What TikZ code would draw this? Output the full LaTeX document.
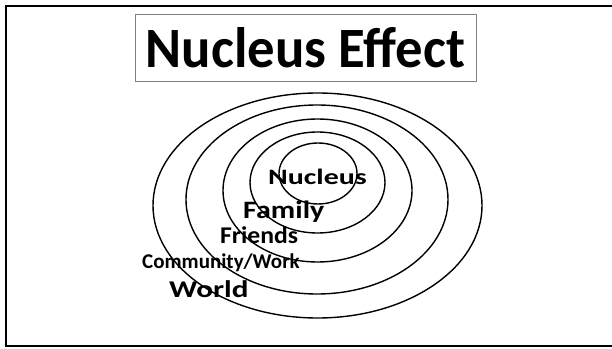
\documentclass[tikz,border=0pt]{standalone}
\usepackage{fontspec}
\setmainfont{Carlito}
\usepackage{graphicx}
\usepackage{tikz}

\begin{document}
\begin{tikzpicture}[x=1pt,y=1pt,
    ring/.style={line width=1.4pt},
    lbl/.style={anchor=base west, inner sep=0pt}]
\clip (0,0) rectangle (612,348);
% frame
\draw[line width=1.5pt] (6,2) rectangle (640,342);
% title
\node[draw=gray, line width=0.6pt, minimum width=341pt, minimum height=67pt,
      inner sep=0pt, font=\fontsize{57}{60}\selectfont\bfseries] (title) at (305.5,300.5)
      {\scalebox{0.96}[1]{Nucleus Effect}};
% rings
\draw[ring] (317.5,142.5) ellipse (164.5 and 112.5);
\draw[ring] (317,148.5) ellipse (131 and 94.5);
\draw[ring] (317.5,157.5) ellipse (94.5 and 71.5);
\draw[ring] (317.5,165.5) ellipse (67.5 and 50.5);
\draw[ring] (318,174.5) ellipse (39 and 30.5);
% labels
\node[lbl, font=\fontsize{22}{24}\selectfont\bfseries] (nucleus) at (268,163) {\scalebox{1.36}[1]{Nucleus}};
\node[lbl, font=\fontsize{25}{27}\selectfont\bfseries] (family) at (243,129) {\scalebox{1.2}[1]{Family}};
\node[lbl, font=\fontsize{24}{26}\selectfont\bfseries] (friends) at (220,105) {\scalebox{1.07}[1]{Friends}};
\node[lbl, font=\fontsize{21}{23}\selectfont\bfseries] (community) at (142,80) {Community/Work};
\node[lbl, font=\fontsize{24}{26}\selectfont\bfseries] (world) at (169,51) {\scalebox{1.3}[1]{World}};
\end{tikzpicture}
\end{document}
